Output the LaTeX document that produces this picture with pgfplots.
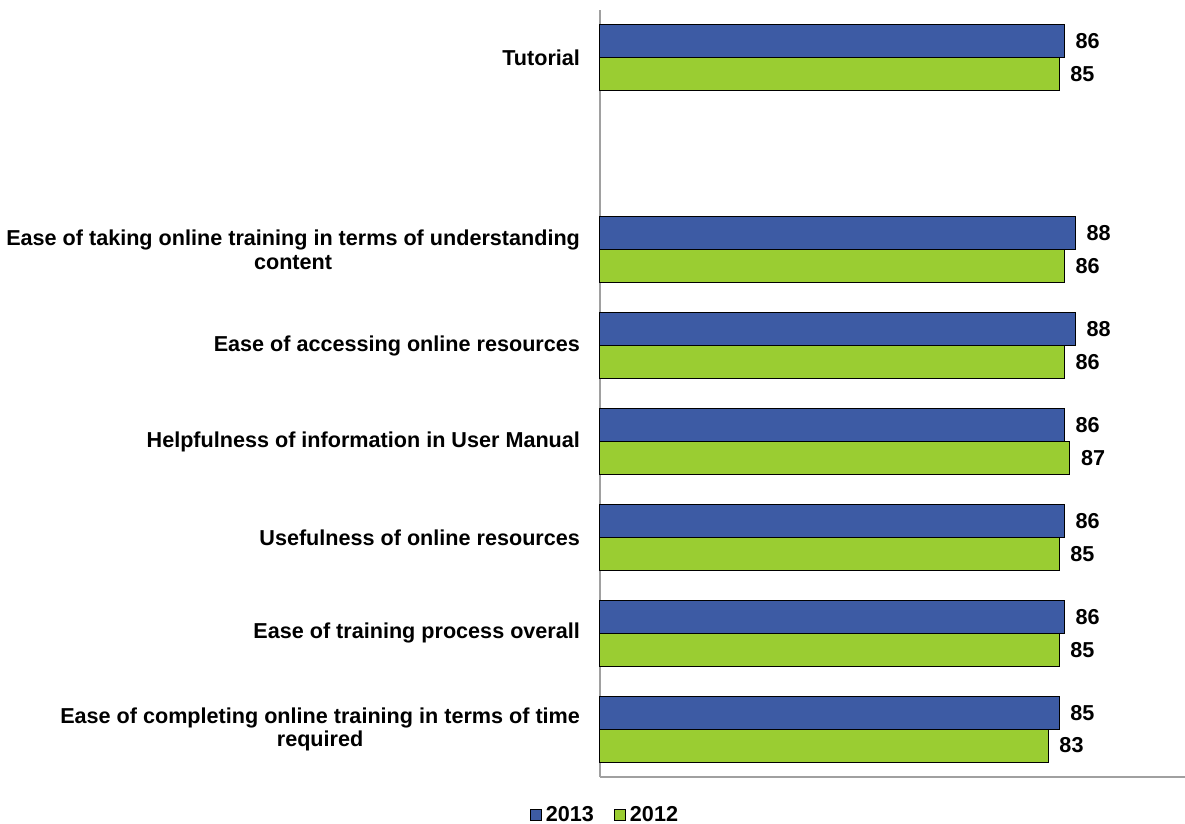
\documentclass[border=0pt]{standalone}
\usepackage{fontspec}
\setmainfont{Liberation Sans}
\usepackage{pgfplots}
\pgfplotsset{compat=1.18}

\definecolor{bar2013}{RGB}{61,91,164}
\definecolor{bar2012}{RGB}{154,205,50}
\definecolor{axisgray}{RGB}{160,160,160}

\begin{document}
\begin{tikzpicture}[font=\fontsize{10.8}{11.6}\selectfont\bfseries]
	\path[use as bounding box] (-300pt,-23.5pt) rectangle (292.5pt,388.5pt);
	\begin{axis}[
			at={(0,0)}, anchor=south west,
			scale only axis,
			width=292.5pt, height=383.5pt,
			xbar=0pt,
			bar width=16.5pt,
			xmin=0, xmax=108.3,
			ymin=-0.5, ymax=7.5,
			y dir=reverse,
			axis x line*=bottom,
			axis y line*=left,
			axis line style={axisgray, line width=0.6pt, -},
			xtick=\empty,
			ytick={0,2,3,4,5,6,7},
			yticklabels={
				Tutorial,
				{Ease of taking online training in terms of understanding\\content},
				Ease of accessing online resources,
				Helpfulness of information in User Manual,
				Usefulness of online resources,
				Ease of training process overall,
				{Ease of completing online training in terms of time\\required}
			},
			major tick length=0pt,
			yticklabel style={align=center, xshift=-6.5pt},
			clip=false,
			/pgf/number format/assume math mode=true,
			nodes near coords,
			every node near coord/.append style={black, xshift=2pt},
			legend style={at={(0,0)}, anchor=center, xshift=3pt, yshift=-19pt,
				draw=none, legend columns=-1,
				/tikz/every even column/.append style={column sep=8pt}},
			sqleg/.style={legend image code/.code={
				\draw[##1,draw=black,line width=0.5pt] (0pt,-2.75pt) rectangle (5.5pt,2.75pt);}},
		]
		\addplot[fill=bar2013, draw=black, line width=0.5pt, bar shift=8.25pt, sqleg] coordinates {
			(86,0) (88,2) (88,3) (86,4) (86,5) (86,6) (85,7)};
		\addplot[fill=bar2012, draw=black, line width=0.5pt, bar shift=-8.25pt, sqleg] coordinates {
			(85,0) (86,2) (86,3) (87,4) (85,5) (85,6) (83,7)};
		\legend{2013, 2012}
	\end{axis}
\end{tikzpicture}
\end{document}
